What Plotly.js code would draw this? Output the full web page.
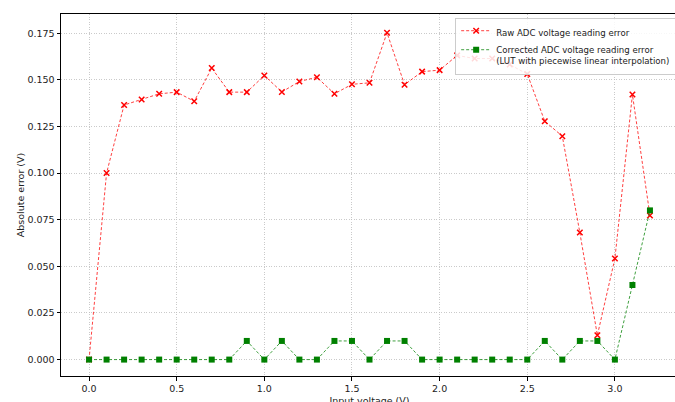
<!DOCTYPE html>
<html>
<head>
<meta charset="utf-8">
<script src="https://cdn.plot.ly/plotly-3.0.1.min.js"></script>
<style>
html,body{margin:0;padding:0;overflow:hidden;background:#fff;}
#chart{width:692px;height:420px;}
</style>
</head>
<body>
<div id="chart"></div>
<script>
const inputVoltage = [0.0,0.1,0.2,0.3,0.4,0.5,0.6,0.7,0.8,0.9,1.0,1.1,1.2,1.3,1.4,1.5,1.6,1.7,1.8,1.9,2.0,2.1,2.2,2.3,2.4,2.5,2.6,2.7,2.8,2.9,3.0,3.1,3.2];
const rawError = [0.000,0.100,0.1365,0.1395,0.1425,0.1434,0.1385,0.1563,0.1434,0.1434,0.1523,0.1435,0.1491,0.1514,0.1425,0.1476,0.1484,0.1752,0.1474,0.1544,0.1552,0.1631,0.1614,0.1614,0.1582,0.1531,0.1278,0.1198,0.0681,0.0130,0.0542,0.1421,0.0773];
const correctedError = [0,0,0,0,0,0,0,0,0,0.01,0,0.01,0,0,0.01,0.01,0,0.01,0.01,0,0,0,0,0,0,0,0.01,0,0.01,0.01,0,0.04,0.08];
const rawName = 'Raw ADC voltage reading error';
const corrName = 'Corrected ADC voltage reading error<br>(LUT with piecewise linear interpolation)';
const xTickVals = [0,0.5,1.0,1.5,2.0,2.5,3.0];
const xTickText = ['0.0','0.5','1.0','1.5','2.0','2.5','3.0'];
const yTickVals = [0,0.025,0.05,0.075,0.1,0.125,0.15,0.175];
const yTickText = ['0.000','0.025','0.050','0.075','0.100','0.125','0.150','0.175'];

const traces = [
  {x: inputVoltage, y: rawError, name: rawName, type: 'scatter', mode: 'lines+markers',
   line: {color: 'rgba(255,0,0,0.75)', width: 1, dash: '3px,2px'},
   marker: {symbol: 'x-thin', size: 5.5, color: 'red', line: {color: 'red', width: 1.5}}},
  {x: inputVoltage, y: correctedError, name: corrName, type: 'scatter', mode: 'lines+markers',
   line: {color: 'rgba(0,128,0,0.75)', width: 1, dash: '3px,2px'},
   marker: {symbol: 'square', size: 6, color: 'green'}}
];

const axisCommon = {
  showline: true, mirror: true, linecolor: 'black', linewidth: 1,
  ticks: 'outside', ticklen: 3.5, tickwidth: 1, tickcolor: 'black',
  showgrid: true, gridcolor: '#bdbdbd', gridwidth: 0.8, griddash: '1px,1.5px',
  zeroline: false, tickfont: {size: 9.5, color: '#222'}
};

const layout = {
  width: 692, height: 420,
  margin: {l: 61, r: 14, t: 14, b: 44},
  paper_bgcolor: 'white', plot_bgcolor: 'white',
  font: {family: 'DejaVu Sans, sans-serif', size: 9.5, color: '#222'},
  showlegend: true,
  legend: {x: 0.997, y: 0.99, xanchor: 'right', yanchor: 'top', valign: 'top',
    bgcolor: 'rgba(255,255,255,0.85)', bordercolor: '#cccccc', borderwidth: 1,
    font: {size: 8.6}, tracegroupgap: 0, itemwidth: 30},
  xaxis: Object.assign({}, axisCommon, {range: [-0.16, 3.36], tickvals: xTickVals, ticktext: xTickText,
    title: {text: 'Input voltage (V)', font: {size: 9.5}, standoff: 4}}),
  yaxis: Object.assign({}, axisCommon, {range: [-0.0088, 0.1853], tickvals: yTickVals, ticktext: yTickText,
    title: {text: 'Absolute error (V)', font: {size: 9.5}, standoff: 1}})
};

Plotly.newPlot('chart', traces, layout, {displayModeBar: false, staticPlot: true});
</script>
</body>
</html>
